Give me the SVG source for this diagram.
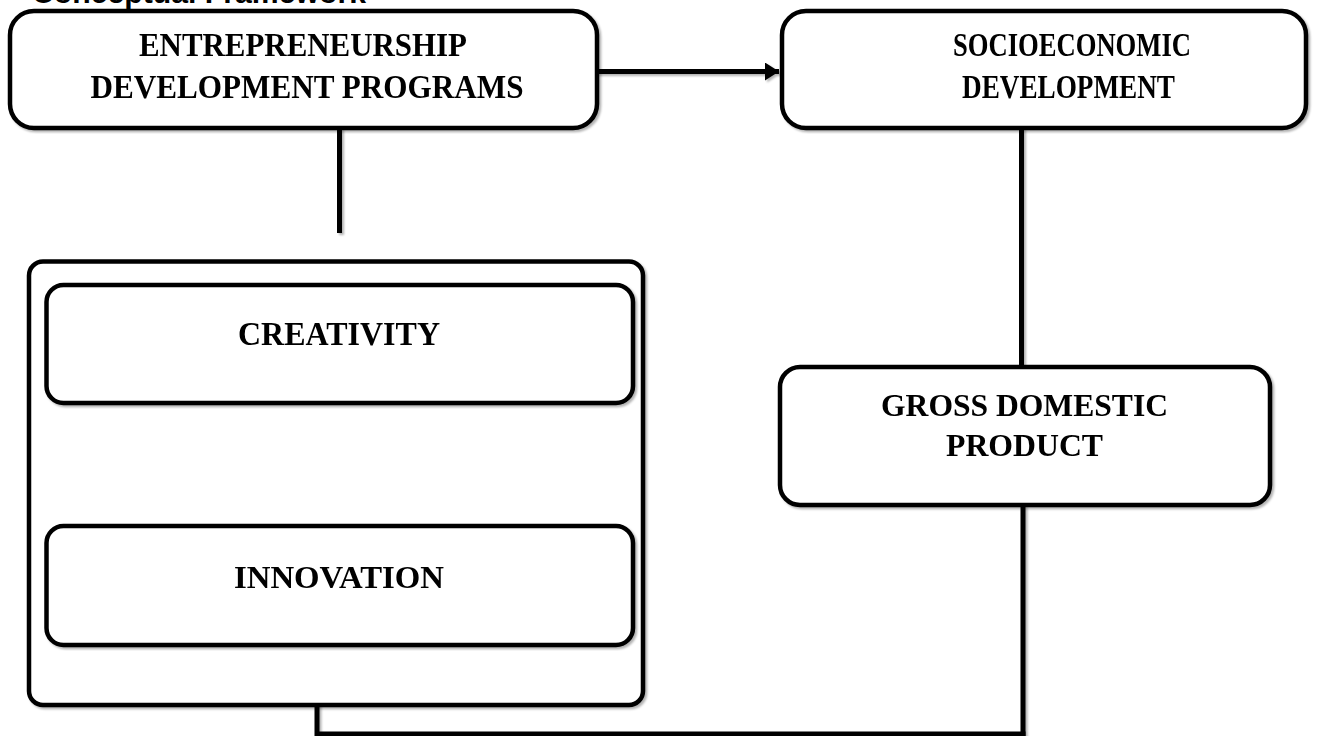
<svg xmlns="http://www.w3.org/2000/svg" width="1319" height="736" viewBox="0 0 1319 736">
  <defs>
    <style>
      .box { fill: #ffffff; stroke: #000000; stroke-width: 4.5; }
      .link { fill: none; stroke: #000000; stroke-width: 5; }
      .label { font-family: "Liberation Serif", "Times New Roman", serif; font-weight: bold; fill: #000000; text-anchor: middle; }
      .title { font-family: "Liberation Sans", Arial, sans-serif; font-weight: bold; font-size: 30px; fill: #000000; }
    </style>
    <filter id="soft" x="-5%" y="-5%" width="110%" height="110%">
      <feDropShadow dx="2" dy="2" stdDeviation="1.2" flood-color="#000000" flood-opacity="0.3"/>
    </filter>
    <marker id="head" markerUnits="userSpaceOnUse" markerWidth="16" markerHeight="18" refX="14" refY="9" orient="auto">
      <path d="M0,0 L14,9 L0,18 Z" fill="#000000"/>
    </marker>
  </defs>

  <rect width="1319" height="736" fill="#ffffff"/>

  <text class="title" x="32" y="3" textLength="334" lengthAdjust="spacingAndGlyphs">Conceptual Framework</text>

  <!-- connectors -->
  <g id="connectors" filter="url(#soft)">
    <line class="link" x1="597" y1="71.5" x2="779" y2="71.5" marker-end="url(#head)"/>
    <line class="link" x1="339.5" y1="128" x2="339.5" y2="233"/>
    <line class="link" x1="1021.5" y1="128" x2="1021.5" y2="367"/>
    <line class="link" x1="1023" y1="505" x2="1023" y2="736"/>
    <line class="link" x1="317" y1="734" x2="1025.5" y2="734"/>
    <line class="link" x1="317" y1="686" x2="317" y2="736"/>
  </g>

  <g id="edp" filter="url(#soft)">
    <rect class="box" x="10" y="11" width="587" height="117" rx="24"/>
    <text class="label" x="303" y="56" font-size="34" textLength="328" lengthAdjust="spacingAndGlyphs">ENTREPRENEURSHIP</text>
    <text class="label" x="307" y="98" font-size="34" textLength="433" lengthAdjust="spacingAndGlyphs">DEVELOPMENT PROGRAMS</text>
  </g>

  <g id="socioeconomic" filter="url(#soft)">
    <rect class="box" x="782" y="11" width="524" height="117" rx="24"/>
    <text class="label" x="1072" y="56" font-size="33" textLength="238" lengthAdjust="spacingAndGlyphs">SOCIOECONOMIC</text>
    <text class="label" x="1068.5" y="98" font-size="33" textLength="213" lengthAdjust="spacingAndGlyphs">DEVELOPMENT</text>
  </g>

  <g id="dimensions" filter="url(#soft)">
    <rect class="box" x="29" y="261.5" width="614" height="443.5" rx="14"/>
  </g>

  <g id="creativity" filter="url(#soft)">
    <rect class="box" x="46.5" y="285" width="586.5" height="118" rx="17"/>
    <text class="label" x="339" y="345" font-size="33" textLength="202" lengthAdjust="spacingAndGlyphs">CREATIVITY</text>
  </g>

  <g id="innovation" filter="url(#soft)">
    <rect class="box" x="46.5" y="526" width="586.5" height="119" rx="17"/>
    <text class="label" x="339" y="588" font-size="32" textLength="210" lengthAdjust="spacingAndGlyphs">INNOVATION</text>
  </g>

  <g id="gdp" filter="url(#soft)">
    <rect class="box" x="780" y="367" width="490" height="138" rx="20"/>
    <text class="label" x="1024.5" y="416" font-size="32" textLength="287" lengthAdjust="spacingAndGlyphs">GROSS DOMESTIC</text>
    <text class="label" x="1024.5" y="456" font-size="32" textLength="157" lengthAdjust="spacingAndGlyphs">PRODUCT</text>
  </g>
</svg>
